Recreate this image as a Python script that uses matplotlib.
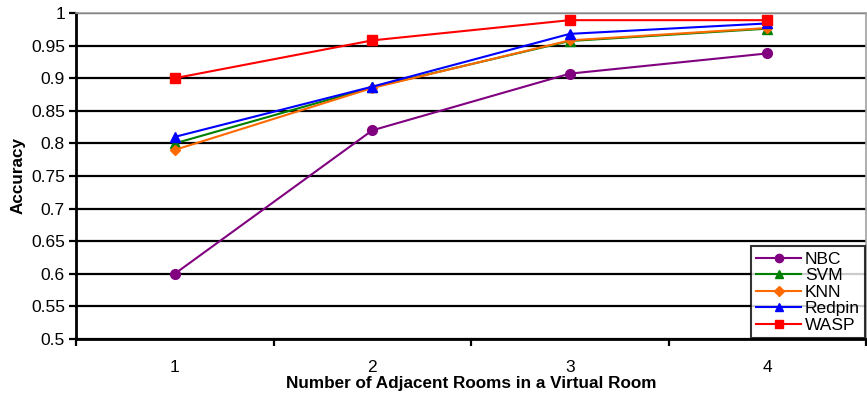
import numpy as np
import matplotlib
matplotlib.use("Agg")
import matplotlib.pyplot as plt

plt.rcParams["font.family"] = ["Liberation Sans", "DejaVu Sans"]

rooms = [1, 2, 3, 4]
nbc = [0.60, 0.82, 0.907, 0.938]
svm = [0.80, 0.886, 0.957, 0.976]
knn = [0.79, 0.885, 0.958, 0.977]
redpin = [0.81, 0.887, 0.968, 0.984]
wasp = [0.90, 0.958, 0.989, 0.989]

series = [
    ("NBC", nbc, "#800080", "o"),
    ("SVM", svm, "#008000", "^"),
    ("KNN", knn, "#FF6A00", "D"),
    ("Redpin", redpin, "#0000FF", "^"),
    ("WASP", wasp, "#FF0000", "s"),
]

fig = plt.figure(figsize=(8.67, 3.98), dpi=100)
ax = fig.add_axes([76 / 867, 1 - 339 / 398, 790 / 867, 326 / 398])

x = np.arange(1, len(rooms) + 1)
for name, vals, color, marker in series:
    ms = 5.5 if marker == "D" else 7
    ax.plot(x, vals, color=color, marker=marker, markersize=ms, linewidth=1.5,
            label=name, zorder=3)

ax.set_xlim(0.5, len(rooms) + 0.5)
ax.set_ylim(0.5, 1.0)
yt = np.arange(0.5, 1.001, 0.05).round(2)
ax.set_yticks(yt)
ax.set_yticklabels([f"{v:g}" for v in yt])
ax.yaxis.grid(True, color="black", linewidth=1.6)
ax.set_axisbelow(True)

# category labels centred, tick marks between categories
ax.set_xticks(x)
ax.set_xticklabels([str(r) for r in rooms])
ax.tick_params(axis="x", length=0, pad=15, labelsize=12.5)
ax.set_xticks(np.arange(0.5, len(rooms) + 0.6, 1), minor=True)
ax.tick_params(axis="x", which="minor", length=5, width=1.6, direction="out")
ax.tick_params(axis="y", length=5, width=1.6, direction="out", labelsize=12.5, pad=3)

ax.spines["left"].set_linewidth(2)
ax.spines["bottom"].set_linewidth(2)
for side in ("top", "right"):
    ax.spines[side].set_color("#A0A0A0")
    ax.spines[side].set_linewidth(1.2)

ax.set_xlabel("Number of Adjacent Rooms in a Virtual Room", fontsize=12.3,
              fontweight="bold", labelpad=1)
ax.set_ylabel("Accuracy", fontsize=12.3, fontweight="bold", labelpad=4)

leg = ax.legend(loc="lower right", bbox_to_anchor=(1.0, 0.0), fontsize=12.5,
                frameon=True, fancybox=False, handlelength=2.6, handletextpad=0.2,
                labelspacing=0.08, borderpad=0.3, borderaxespad=0.05,
                markerscale=0.85)
leg.get_frame().set_edgecolor("black")
leg.get_frame().set_linewidth(1.5)

fig.savefig("out.png", dpi=100)
